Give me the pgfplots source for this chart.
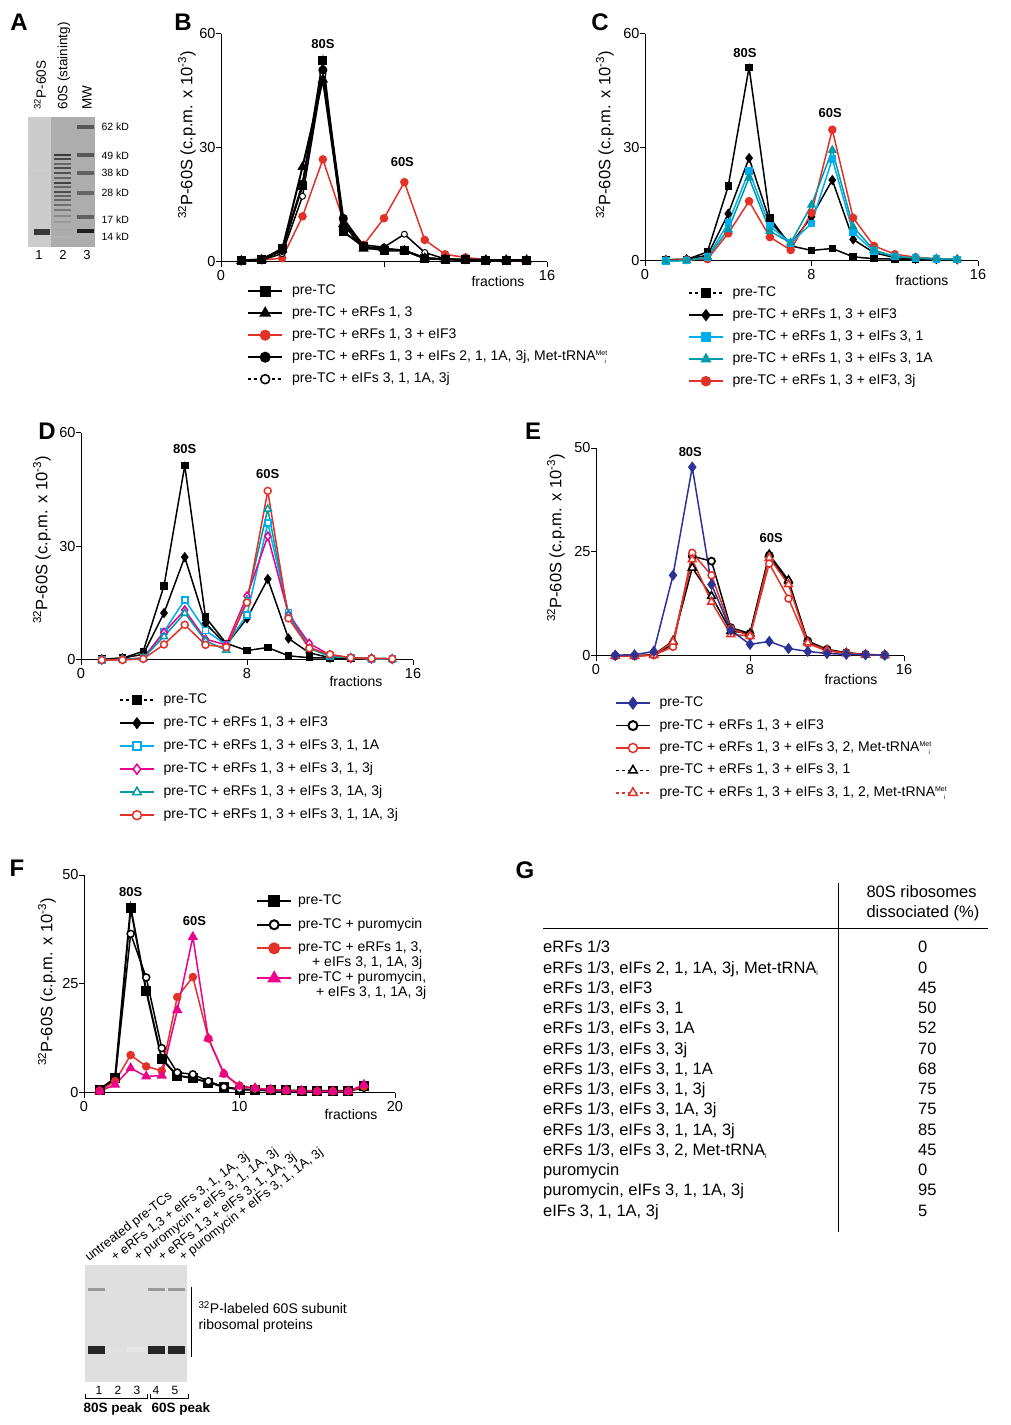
\documentclass[border=0pt]{standalone}
\usepackage{fontspec}
\setmainfont{Liberation Sans}
\usepackage{pgfplots}
\pgfplotsset{compat=1.18}
\definecolor{cred}{RGB}{226,50,40}
\definecolor{ccyan}{RGB}{0,174,239}
\definecolor{cteal}{RGB}{0,155,170}
\definecolor{cmag}{RGB}{236,0,140}
\definecolor{cblue}{RGB}{45,50,150}
\newcommand{\met}{\makebox[0pt][l]{\raisebox{5pt}{\fontsize{7}{7}\selectfont Met}}\raisebox{-3pt}{\hspace{9pt}\fontsize{6}{6}\selectfont i}}
\tikzset{pk/.style={font=\bfseries\fontsize{13}{15}\selectfont}}
\pgfplotsset{
 panel/.style={
  scale only axis, anchor=south west, xmin=0, ymin=0,
  axis lines=left, axis line style={-, line width=1pt},
  tick align=outside, major tick length=5pt,
  tick style={black, line width=1pt},
  tick label style={font=\fontsize{14.5}{17}\selectfont},
  yticklabel style={xshift=3pt},
  /pgf/number format/assume math mode=true,
  clip=false,
  legend cell align=left,
  legend style={draw=none, fill=none, at={(0,0)}, anchor=north west, inner sep=0pt,
    font=\fontsize{14}{17}\selectfont, row sep=9pt, column sep=9pt,
    nodes={inner sep=0pt, text height=10pt, text depth=3pt}},
  legend image code/.code={\draw[mark repeat=2,mark phase=2,##1] plot coordinates {(0pt,0pt)(17pt,0pt)(34pt,0pt)};},
 },
}
\newcommand{\st}{\rule[-3pt]{0pt}{13pt}}
\begin{document}
\begin{tikzpicture}
\path[use as bounding box] (0pt,0pt) rectangle (1010pt,1425pt);
\begin{scope}[x=1pt,y=1pt]
% panel letters
\foreach \l/\px/\py in {A/19/1403,B/183/1403,C/600/1403,D/47/994,E/533/994,F/17/557,G/525/555}
  \node[font=\bfseries\fontsize{24}{26}\selectfont] at (\px,\py) {\l};
% y labels
\foreach \px/\py in {187/1290,605/1290,42/885,556/887,47/443}
  \node[rotate=90, font=\fontsize{16.5}{19}\selectfont] at (\px,\py) {\textsuperscript{32}P-60S (c.p.m. x 10\textsuperscript{-3})};
% fractions
\foreach \px/\py in {498/1143,922/1144,356/743,851/745,351/311}
  \node[font=\fontsize{14}{17}\selectfont] at (\px,\py) {fractions};
% ---- panel A gel
\fill[gray!64] (28,1308) rectangle (95,1178);
\fill[gray!40] (28,1308) rectangle (51,1178);
\foreach \y/\d in {155/78,159/72,164/60,168/70,173/68,178/60,183/74,187/60,192/70,196/62,200/60,205/56,210/52,216/46,222/40,230/34,237/30}
  \fill[black!\d] (54,1425-\y-1.4) rectangle (71,1425-\y+1.4);
\foreach \y/\d in {127/66,155/66,173/62,193/60,217/62,231/88}
  \fill[black!\d] (77,1425-\y-1.6) rectangle (94,1425-\y+1.6);
\fill[black!22] (31,1425-173-1.2) rectangle (49,1425-173+1.2);
\fill[black!78] (34,1425-232-2.7) rectangle (50,1425-232+2.7);
\node[rotate=90,anchor=west,font=\fontsize{13.5}{16}\selectfont] at (40,1312) {\textsuperscript{32}P-60S};
\node[rotate=90,anchor=west,font=\fontsize{13.5}{16}\selectfont] at (64,1312) {60S (stainintg)};
\node[rotate=90,anchor=west,font=\fontsize{13.5}{16}\selectfont] at (87,1312) {MW};
\foreach \t/\py in {62/1298,49/1269,38/1252,28/1232,17/1205,14/1188}
  \node[anchor=west,font=\fontsize{10.5}{12}\selectfont] at (98,\py) {\t\ kD};
\foreach \n/\px in {1/39,2/63,3/87}
  \node[font=\fontsize{13}{15}\selectfont] at (\px,1170) {\n};
% ---- panel F gel
\fill[gray!25] (85,160) rectangle (187,43);
\foreach \a/\b in {88/105,148/165,168/185}
  {\fill[black!40] (\a,135-1.5) rectangle (\b,135+1.5);
   \fill[black!85] (\a,75-4) rectangle (\b,75+4);}
\fill[black!12] (107,75-2.5) rectangle (123,75+2.5);
\fill[black!10] (127,75-2.5) rectangle (145,75+2.5);
\draw[line width=0.8pt] (191,138) -- (191,68);
\node[anchor=west,font=\fontsize{14}{17}\selectfont] at (195,117) {\textsuperscript{32}P-labeled 60S subunit};
\node[anchor=west,font=\fontsize{14}{17}\selectfont] at (195,99) {ribosomal proteins};
\foreach \n/\px in {1/99,2/118,3/137,4/156,5/175}
  \node[font=\fontsize{12}{14}\selectfont] at (\px,35) {\n};
\draw[line width=0.8pt] (85,31) -- (85,27) -- (147,27) -- (147,31);
\draw[line width=0.8pt] (150,31) -- (150,27) -- (188,27) -- (188,31);
\node[font=\bfseries\fontsize{13.5}{16}\selectfont] at (113,16) {80S peak};
\node[font=\bfseries\fontsize{13.5}{16}\selectfont] at (181,16) {60S peak};
\foreach \px/\t in {89/{untreated pre-TCs},115/{+ eRFs 1,3 + eIFs 3, 1, 1A, 3j},138/{+ puromycin + eIFs 3, 1, 1A, 3j},162/{+ eRFs 1,3 + eIFs 3, 1, 1A, 3j},183/{+ puromycin + eIFs 3, 1, 1A, 3j}}
  \node[rotate=37.5,anchor=base west,inner sep=0pt,font=\fontsize{13}{15}\selectfont] at (\px,163) {\t};
% ---- panel G table
\draw[line width=1pt] (838,542) -- (838,193);
\draw[line width=1pt] (543,496) -- (988,496);
\node[anchor=base west,font=\fontsize{16.5}{19}\selectfont] at (863,527) {80S ribosomes};
\node[anchor=base west,font=\fontsize{16.5}{19}\selectfont] at (863,507) {dissociated (\%)};
\foreach \i/\t/\v in {0/{eRFs 1/3}/0,
  1/{eRFs 1/3, eIFs 2, 1, 1A, 3j, Met-tRNA\textsubscript{\fontsize{7}{7}\selectfont i}}/0,
  2/{eRFs 1/3, eIF3}/45,
  3/{eRFs 1/3, eIFs 3, 1}/50,
  4/{eRFs 1/3, eIFs 3, 1A}/52,
  5/{eRFs 1/3, eIFs 3, 3j}/70,
  6/{eRFs 1/3, eIFs 3, 1, 1A}/68,
  7/{eRFs 1/3, eIFs 3, 1, 3j}/75,
  8/{eRFs 1/3, eIFs 3, 1A, 3j}/75,
  9/{eRFs 1/3, eIFs 3, 1, 1A, 3j}/85,
  10/{eRFs 1/3, eIFs 3, 2, Met-tRNA\textsubscript{\fontsize{7}{7}\selectfont i}}/45,
  11/{puromycin}/0,
  12/{puromycin, eIFs 3, 1, 1A, 3j}/95,
  13/{eIFs 3, 1, 1A, 3j}/5}
 {\node[anchor=base west,inner sep=0pt,font=\fontsize{16.5}{19}\selectfont] at (543,472-20.25*\i) {\t};
  \node[anchor=base west,inner sep=0pt,font=\fontsize{16.5}{19}\selectfont] at (918,472-20.25*\i) {\v};}
\end{scope}

% ===== Panel B
\begin{axis}[panel, at={(221pt,1163pt)}, width=326pt, height=228pt, xmax=16, ymax=60,
  xtick={0,8,16}, xticklabels={0,,16}, ytick={0,30,60},
  legend style={xshift=26pt,yshift=-22.5pt}]
\addlegendimage{black, line width=2pt, mark=square*, mark size=4.5pt}\addlegendentry{pre-TC}
\addlegendimage{black, line width=2pt, mark=triangle*, mark size=5pt}\addlegendentry{pre-TC + eRFs 1, 3}
\addlegendimage{cred, line width=2pt, mark=*, mark size=4.5pt}\addlegendentry{pre-TC + eRFs 1, 3 + eIF3}
\addlegendimage{black, line width=2pt, mark=*, mark size=4.5pt}\addlegendentry{pre-TC + eRFs 1, 3 + eIFs 2, 1, 1A, 3j, Met-tRNA\met}
\addlegendimage{black, line width=1.5pt, dashed, mark=*, mark size=4.5pt, mark options={solid, fill=white}}\addlegendentry{pre-TC + eIFs 3, 1, 1A, 3j}
\addplot[cred, line width=1.5pt, mark=*, mark size=3.5pt, forget plot] coordinates {(1,0.2)(2,0.5)(3,1)(4,12)(5,27)(6,11)(7,4.5)(8,11.5)(9,21)(10,5.8)(11,2)(12,1.2)(13,0.6)(14,0.4)(15,0.3)};
\addplot[black, line width=1.5pt, mark=*, mark size=3pt, mark options={fill=white, line width=1pt}, forget plot] coordinates {(1,0.3)(2,0.5)(3,2.2)(4,17.3)(5,49.5)(6,10.2)(7,4.5)(8,3.9)(9,7.3)(10,2.5)(11,0.8)(12,0.5)(13,0.5)(14,0.4)(15,0.4)};
\addplot[black, line width=2pt, mark=*, mark size=3.5pt, forget plot] coordinates {(1,0.3)(2,0.6)(3,3)(4,20.5)(5,50.5)(6,11.5)(7,4)(8,3.5)(9,3)(10,1)(11,0.7)(12,0.6)(13,0.5)(14,0.5)(15,0.5)};
\addplot[black, line width=2pt, mark=triangle*, mark size=4pt, forget plot] coordinates {(1,0.3)(2,0.6)(3,3.2)(4,25)(5,48)(6,10)(7,3.5)(8,3.5)(9,3)(10,1)(11,0.7)(12,0.6)(13,0.5)(14,0.5)(15,0.5)};
\addplot[black, line width=2pt, mark=square*, mark size=3.5pt, forget plot] coordinates {(1,0.4)(2,0.7)(3,3.5)(4,20)(5,53)(6,8)(7,4)(8,3)(9,3)(10,1)(11,0.7)(12,0.6)(13,0.5)(14,0.5)(15,0.5)};
\node[pk] at (axis cs:5,57.4) {80S};
\node[pk] at (axis cs:8.9,26.3) {60S};
\end{axis}

% ===== Panel C
\begin{axis}[panel, at={(645pt,1164pt)}, width=333pt, height=227pt, xmax=16, ymax=60,
  xtick={0,8,16}, ytick={0,30,60},
  legend style={xshift=43pt,yshift=-25.5pt}]
\addlegendimage{black, line width=1.5pt, dashed, mark=square*, mark size=4pt, mark options={solid}}\addlegendentry{pre-TC}
\addlegendimage{black, line width=1.5pt, mark=diamond*, mark size=5pt}\addlegendentry{pre-TC + eRFs 1, 3 + eIF3}
\addlegendimage{ccyan, line width=1.5pt, mark=square*, mark size=4pt}\addlegendentry{pre-TC + eRFs 1, 3 + eIFs 3, 1}
\addlegendimage{cteal, line width=1.5pt, mark=triangle*, mark size=5pt}\addlegendentry{pre-TC + eRFs 1, 3 + eIFs 3, 1A}
\addlegendimage{cred, line width=1.5pt, mark=*, mark size=4.5pt}\addlegendentry{pre-TC + eRFs 1, 3 + eIF3, 3j}
\addplot[black, line width=1.5pt, mark=square*, mark size=3pt, forget plot] coordinates {(1,0.3)(2,0.4)(3,2.4)(4,19.8)(5,51.2)(6,11.4)(7,4)(8,2.8)(9,3.3)(10,1.1)(11,0.6)(12,0.5)(13,0.4)(14,0.4)(15,0.4)};
\addplot[black, line width=1.5pt, mark=diamond*, mark size=4pt, forget plot] coordinates {(1,0.3)(2,0.5)(3,1.5)(4,12.5)(5,27.2)(6,10.5)(7,4.4)(8,11.7)(9,21.4)(10,5.7)(11,2.2)(12,0.9)(13,0.6)(14,0.5)(15,0.4)};
\addplot[cred, line width=1.5pt, mark=*, mark size=3.5pt, forget plot] coordinates {(1,0.2)(2,0.3)(3,0.5)(4,7.3)(5,15.8)(6,6.3)(7,2.9)(8,12.7)(9,34.7)(10,11.4)(11,4)(12,1.8)(13,1)(14,0.6)(15,0.4)};
\addplot[ccyan, line width=1.5pt, mark=square*, mark size=3pt, forget plot] coordinates {(1,0)(2,0.1)(3,1)(4,10)(5,23.8)(6,9.2)(7,4.8)(8,9.9)(9,27)(10,7.5)(11,2.6)(12,1.2)(13,0.8)(14,0.5)(15,0.4)};
\addplot[cteal, line width=1.5pt, mark=triangle*, mark size=4pt, forget plot] coordinates {(1,0)(2,0.1)(3,1)(4,8.3)(5,22)(6,7.9)(7,4.8)(8,14.8)(9,29.3)(10,9)(11,2.9)(12,1.2)(13,0.8)(14,0.6)(15,0.4)};
\node[pk] at (axis cs:4.8,55) {80S};
\node[pk] at (axis cs:8.9,39) {60S};
\end{axis}

% ===== Panel D
\begin{axis}[panel, at={(81pt,765pt)}, width=332pt, height=227pt, xmax=16, ymax=60,
  xtick={0,8,16}, ytick={0,30,60},
  legend style={xshift=38pt,yshift=-33.5pt, row sep=10pt}]
\addlegendimage{black, line width=1.5pt, dashed, mark=square*, mark size=4pt, mark options={solid}}\addlegendentry{pre-TC}
\addlegendimage{black, line width=1.5pt, mark=diamond*, mark size=5pt}\addlegendentry{pre-TC + eRFs 1, 3 + eIF3}
\addlegendimage{ccyan, line width=1.5pt, mark=square*, mark size=4pt, mark options={fill=white}}\addlegendentry{pre-TC + eRFs 1, 3 + eIFs 3, 1, 1A}
\addlegendimage{cmag, line width=1.5pt, mark=diamond*, mark size=5pt, mark options={fill=white}}\addlegendentry{pre-TC + eRFs 1, 3 + eIFs 3, 1, 3j}
\addlegendimage{cteal, line width=1.5pt, mark=triangle*, mark size=5pt, mark options={fill=white}}\addlegendentry{pre-TC + eRFs 1, 3 + eIFs 3, 1A, 3j}
\addlegendimage{cred, line width=1.5pt, mark=*, mark size=4.5pt, mark options={fill=white}}\addlegendentry{pre-TC + eRFs 1, 3 + eIFs 3, 1, 1A, 3j}
\addplot[black, line width=1.5pt, mark=square*, mark size=3pt, forget plot] coordinates {(1,0.2)(2,0.5)(3,2.3)(4,19.6)(5,51.4)(6,11.3)(7,4.4)(8,2.5)(9,3.3)(10,1.1)(11,0.6)(12,0.5)(13,0.4)(14,0.4)(15,0.3)};
\addplot[black, line width=1.5pt, mark=diamond*, mark size=4pt, forget plot] coordinates {(1,0.2)(2,0.5)(3,1.5)(4,12.4)(5,27.2)(6,9.7)(7,4)(8,11)(9,21.4)(10,5.7)(11,1.9)(12,0.6)(13,0.5)(14,0.4)(15,0.3)};
\addplot[ccyan, line width=1.5pt, mark=square*, mark size=3pt, mark options={fill=white}, forget plot] coordinates {(1,0)(2,0.1)(3,0.5)(4,7.5)(5,15.9)(6,7.8)(7,4)(8,11.9)(9,36.2)(10,12.5)(11,3.5)(12,1)(13,0.6)(14,0.3)(15,0.2)};
\addplot[cmag, line width=1.5pt, mark=diamond*, mark size=4pt, mark options={fill=white}, forget plot] coordinates {(1,0)(2,0.2)(3,0.5)(4,7.3)(5,13.2)(6,5.5)(7,4)(8,16.9)(9,32.7)(10,12.1)(11,4.4)(12,1.3)(13,0.5)(14,0.3)(15,0.2)};
\addplot[cteal, line width=1.5pt, mark=triangle*, mark size=4pt, mark options={fill=white}, forget plot] coordinates {(1,0)(2,0.1)(3,0.5)(4,6.2)(5,12.4)(6,5.1)(7,2.6)(8,15.9)(9,39.9)(10,11.9)(11,3.1)(12,0.9)(13,0.6)(14,0.3)(15,0.2)};
\addplot[cred, line width=1.5pt, mark=*, mark size=3.5pt, mark options={fill=white}, forget plot] coordinates {(1,0)(2,0)(3,0.3)(4,4.1)(5,9.3)(6,4)(7,3.4)(8,15.2)(9,44.7)(10,11)(11,3.1)(12,1.5)(13,0.6)(14,0.4)(15,0.3)};
\node[pk] at (axis cs:5,55.8) {80S};
\node[pk] at (axis cs:9,49.2) {60S};
\end{axis}

% ===== Panel E
\begin{axis}[panel, at={(596pt,769pt)}, width=308pt, height=208pt, xmax=16, ymax=50,
  xtick={0,8,16}, ytick={0,25,50},
  legend style={xshift=19pt,yshift=-40.5pt, row sep=9.4pt}]
\addlegendimage{cblue, line width=1.5pt, mark=diamond*, mark size=5.5pt}\addlegendentry{pre-TC}
\addlegendimage{black, line width=1.5pt, mark=*, mark size=4.5pt, mark options={fill=white, line width=2pt}}\addlegendentry{pre-TC + eRFs 1, 3 + eIF3}
\addlegendimage{cred, line width=1.5pt, mark=*, mark size=4.5pt, mark options={fill=white}}\addlegendentry{pre-TC + eRFs 1, 3 + eIFs 3, 2, Met-tRNA\met}
\addlegendimage{black, line width=1.5pt, dashed, mark=triangle*, mark size=5pt, mark options={solid, fill=white}}\addlegendentry{pre-TC + eRFs 1, 3 + eIFs 3, 1}
\addlegendimage{cred, line width=1.5pt, dashed, mark=triangle*, mark size=5pt, mark options={solid, fill=white}}\addlegendentry{pre-TC + eRFs 1, 3 + eIFs 3, 1, 2, Met-tRNA\met}
\addplot[black, line width=1.5pt, mark=*, mark size=3.5pt, mark options={fill=white, line width=1.8pt}, forget plot] coordinates {(1,0)(2,0)(3,0.3)(4,2.8)(5,24)(6,22.8)(7,6.8)(8,5.4)(9,24.2)(10,17.6)(11,3.6)(12,1.6)(13,0.8)(14,0.4)(15,0.2)};
\addplot[black, line width=1.5pt, mark=triangle*, mark size=4.5pt, mark options={fill=white}, forget plot] coordinates {(1,0)(2,0)(3,0.3)(4,3.6)(5,21.2)(6,14.4)(7,6)(8,5.4)(9,24.4)(10,18.2)(11,3.4)(12,1.4)(13,0.7)(14,0.3)(15,0.2)};
\addplot[cred, line width=1.5pt, mark=*, mark size=3.5pt, mark options={fill=white}, forget plot] coordinates {(1,0)(2,0)(3,0.2)(4,2.2)(5,24.8)(6,19.4)(7,6.6)(8,4.8)(9,22.2)(10,13.8)(11,3)(12,1.2)(13,0.7)(14,0.3)(15,0.2)};
\addplot[cred, line width=1.5pt, mark=triangle*, mark size=4.5pt, mark options={fill=white}, forget plot] coordinates {(1,0)(2,0)(3,0.2)(4,3.4)(5,23.2)(6,13)(7,5.2)(8,4.8)(9,23.6)(10,17.2)(11,3.2)(12,1.4)(13,0.6)(14,0.3)(15,0.2)};
\addplot[cblue, line width=1.5pt, mark=diamond*, mark size=4.5pt, forget plot] coordinates {(1,0.2)(2,0.3)(3,1.1)(4,19.4)(5,45.4)(6,17.2)(7,6.2)(8,2.8)(9,3.5)(10,1.8)(11,1.1)(12,0.6)(13,0.4)(14,0.3)(15,0.2)};
\node[pk] at (axis cs:4.9,49) {80S};
\node[pk] at (axis cs:9.1,28.4) {60S};
\end{axis}

% ===== Panel F
\begin{axis}[panel, at={(84pt,332pt)}, width=311pt, height=218pt, xmax=20, ymax=50,
  xtick={0,10,20}, ytick={0,25,50},
  legend style={xshift=172pt,yshift=198.5pt, row sep=10.5pt, column sep=6pt,
    nodes={text height=, text depth=}}]
\addlegendimage{black, line width=2pt, mark=square*, mark size=5pt}\addlegendentry{\st pre-TC}
\addlegendimage{black, line width=2pt, mark=*, mark size=4.5pt, mark options={fill=white}}\addlegendentry{\st pre-TC + puromycin}
\addlegendimage{cred, line width=2pt, mark=*, mark size=5pt}\addlegendentry{\st pre-TC + eRFs 1, 3,\makebox[0pt][r]{\raisebox{-15pt}[0pt][0pt]{+ eIFs 3, 1, 1A, 3j}}}
\addlegendimage{cmag, line width=2pt, mark=triangle*, mark size=6pt}\addlegendentry{\rule[-9.5pt]{0pt}{26pt}pre-TC + puromycin,\makebox[0pt][r]{\raisebox{-15pt}[0pt][0pt]{+ eIFs 3, 1, 1A, 3j}}}
\addplot[black, line width=2pt, mark=square*, mark size=4pt, forget plot] coordinates {(1,0.8)(2,3.4)(3,42.5)(4,23.5)(5,7.8)(6,4)(7,3.4)(8,2.4)(9,1.4)(10,0.8)(11,0.8)(12,0.6)(13,0.6)(14,0.5)(15,0.5)(16,0.5)(17,0.5)(18,1.5)};
\addplot[black, line width=1.5pt, mark=*, mark size=3.5pt, mark options={fill=white}, forget plot] coordinates {(1,0.6)(2,3)(3,36.5)(4,26.5)(5,10.3)(6,4.7)(7,4.3)(8,2.7)(9,1.4)(10,0.9)(11,0.7)(12,0.5)(13,0.5)(14,0.4)(15,0.4)(16,0.4)(17,0.4)(18,1.2)};
\addplot[cred, line width=1.5pt, mark=*, mark size=3.5pt, forget plot] coordinates {(1,0.5)(2,2.7)(3,8.7)(4,6.1)(5,5.1)(6,22)(7,26.6)(8,12.5)(9,4.4)(10,1.7)(11,1.1)(12,0.8)(13,0.6)(14,0.5)(15,0.4)(16,0.4)(17,0.4)(18,1.5)};
\addplot[cmag, line width=1.5pt, mark=triangle*, mark size=4.5pt, forget plot] coordinates {(1,0.4)(2,1.9)(3,5.7)(4,3.8)(5,4)(6,19)(7,35.8)(8,12.5)(9,4.4)(10,1.5)(11,1.1)(12,0.8)(13,0.6)(14,0.5)(15,0.4)(16,0.4)(17,0.4)(18,1.9)};
\node[pk] at (axis cs:3,46) {80S};
\node[pk] at (axis cs:7.1,39.4) {60S};
\end{axis}
\end{tikzpicture}
\end{document}
